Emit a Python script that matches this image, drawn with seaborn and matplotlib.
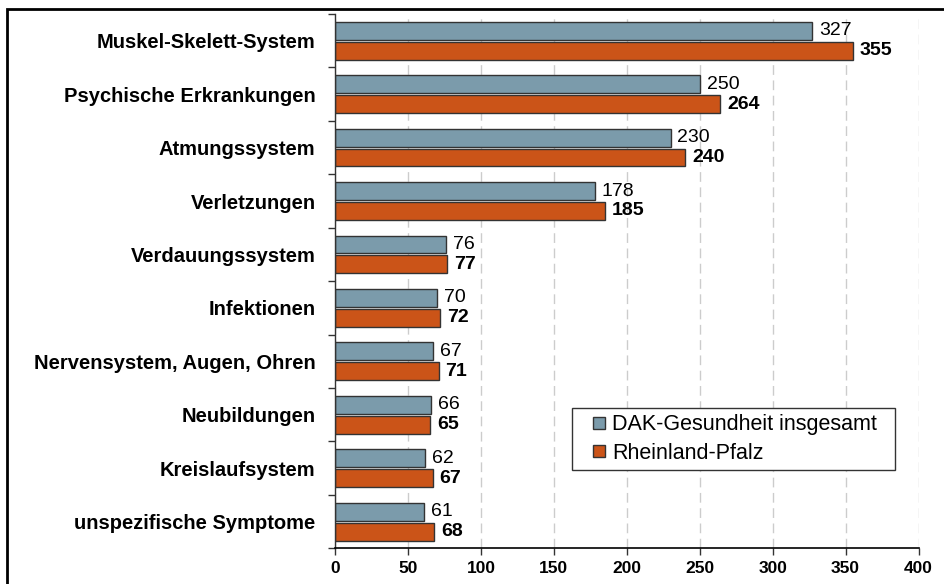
import pandas as pd
import numpy as np
import matplotlib
matplotlib.use('Agg')
import matplotlib.pyplot as plt
from matplotlib.lines import Line2D
from matplotlib.patches import Rectangle
import seaborn as sns

# Daten (Arbeitsunfähigkeitstage je 100 Versicherte)
kategorien = ['Muskel-Skelett-System', 'Psychische Erkrankungen', 'Atmungssystem',
              'Verletzungen', 'Verdauungssystem', 'Infektionen',
              'Nervensystem, Augen, Ohren', 'Neubildungen', 'Kreislaufsystem',
              'unspezifische Symptome']
dak_werte = [327, 250, 230, 178, 76, 70, 67, 66, 62, 61]
rlp_werte = [355, 264, 240, 185, 77, 72, 71, 65, 67, 68]
serien = ['DAK-Gesundheit insgesamt', 'Rheinland-Pfalz']
x_ticks = [0, 50, 100, 150, 200, 250, 300, 350, 400]

farben = {'DAK-Gesundheit insgesamt': '#7b9bab', 'Rheinland-Pfalz': '#cb5418'}

df = pd.DataFrame({
    'Kategorie': kategorien * 2,
    'Wert': dak_werte + rlp_werte,
    'Serie': [serien[0]] * len(kategorien) + [serien[1]] * len(kategorien),
})

sns.set_style('white')
plt.rcParams['font.family'] = ['Liberation Sans', 'DejaVu Sans']
plt.rcParams['text.color'] = 'black'
plt.rcParams['xtick.color'] = 'black'
plt.rcParams['ytick.color'] = 'black'

fig = plt.figure(figsize=(9.45, 5.84), dpi=100)
ax = fig.add_axes([0.3545, 0.0611, 0.9720 - 0.3545, 0.976 - 0.0611])

sns.barplot(data=df, y='Kategorie', x='Wert', hue='Serie', orient='h',
            order=kategorien, hue_order=serien, palette=farben, saturation=1,
            width=0.745, gap=0.1, edgecolor='#333333', linewidth=1,
            legend=False, ax=ax)

# Wertebeschriftungen
ax.bar_label(ax.containers[0], labels=[str(v) for v in dak_werte],
             padding=5, fontsize=14, color='black')
ax.bar_label(ax.containers[1], labels=[str(v) for v in rlp_werte],
             padding=5, fontsize=14, fontweight='bold', color='black')

# Achsen
n = len(kategorien)
ax.set_xlim(0, 400)
ax.set_ylim(n - 0.5, -0.5)
ax.set_xticks(x_ticks)
ax.set_xticklabels([str(t) for t in x_ticks], fontsize=12.5, fontweight='bold')
ax.set_yticks(np.arange(n + 1) - 0.5)
ax.set_yticklabels([])
ax.set_yticks(np.arange(n), labels=kategorien, minor=True)
ax.tick_params(axis='y', which='major', direction='out', length=5, width=1,
               color='#333333', left=True)
ax.tick_params(axis='y', which='minor', length=0, pad=14, left=True)
for lbl in ax.get_yticklabels(minor=True):
    lbl.set_fontsize(14.5)
    lbl.set_fontweight('bold')
ax.tick_params(axis='x', direction='out', length=5, width=1, color='#333333',
               pad=4, bottom=True)
ax.set_xlabel('')
ax.set_ylabel('')

ax.grid(axis='x', color='#cccccc', linestyle=(0, (7, 4)), linewidth=1)
ax.set_axisbelow(True)
for s in ['top', 'right']:
    ax.spines[s].set_visible(False)
ax.spines['left'].set_color('#333333')
ax.spines['bottom'].set_color('black')
ax.spines['left'].set_linewidth(1)
ax.spines['bottom'].set_linewidth(1.2)

# Legende
handles = [Line2D([], [], linestyle='none', marker='s', markersize=9,
                  markerfacecolor=farben[s], markeredgecolor='#333333',
                  markeredgewidth=1) for s in serien]
leg = ax.legend(handles, serien, loc='upper left', mode='expand',
                bbox_to_anchor=(572 / 945, 1 - 470 / 584, 323 / 945, 62 / 584),
                bbox_transform=fig.transFigure, fontsize=15.5, frameon=True,
                fancybox=False, framealpha=1, edgecolor='#333333',
                handlelength=1.9, handletextpad=-0.35,
                borderpad=0.3, labelspacing=0.35, borderaxespad=0)
leg.get_frame().set_linewidth(1)

# Rahmen um die Grafik
fig.patches.append(Rectangle((7 / 945, -0.1), 1.2, 1 - 9 / 584 + 0.1,
                             transform=fig.transFigure, fill=False,
                             edgecolor='black', linewidth=2))

fig.savefig('out.png', dpi=100)
